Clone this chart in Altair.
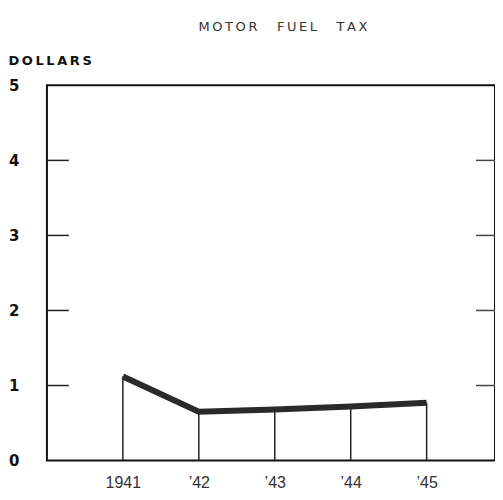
import altair as alt
import pandas as pd

years = [1941, 1942, 1943, 1944, 1945]
values = [1.12, 0.65, 0.68, 0.72, 0.77]
y_ticks = [0, 1, 2, 3, 4, 5]
inner_ticks = [1, 2, 3, 4]

df = pd.DataFrame({"year": years, "value": values})
tick_df = pd.DataFrame({"t": inner_ticks})

label_expr = "datum.value == 1941 ? '1941' : '\u2019' + substring(toString(datum.value), 2, 4)"

x_scale = alt.Scale(domain=[1940, 1945.9], nice=False, zero=False)
y_scale = alt.Scale(domain=[0, 5], nice=False)

x_enc = alt.X("year:Q", scale=x_scale,
              axis=alt.Axis(values=years, labelExpr=label_expr, title=None, grid=False,
                            domain=False, ticks=False, tickSize=0, labelPadding=14,
                            labelFontSize=16, labelFont="Liberation Sans", labelColor="#333"))
y_enc = alt.Y("value:Q", scale=y_scale,
              axis=alt.Axis(values=y_ticks, format="d", title="D\u2009O\u2009L\u2009L\u2009A\u2009R\u2009S",
                            grid=False, domain=False,
                            ticks=False, tickSize=0, labelPadding=28, labelAlign="right",
                            labelFontSize=15, labelFont="DejaVu Sans", labelFontWeight="bold",
                            labelColor="#111",
                            titleAngle=0, titleAlign="left", titleX=-39, titleY=-25,
                            titleBaseline="middle", titleFont="DejaVu Sans", titleFontSize=13,
                            titleFontWeight="bold", titleColor="#111"))

drops = alt.Chart(df).mark_rule(color="#222", strokeWidth=1.5).encode(
    x=x_enc, y=y_enc, y2=alt.Y2(datum=0)
)
line = alt.Chart(df).mark_line(color="#2a2a2a", strokeWidth=6, strokeJoin="miter").encode(
    x=alt.X("year:Q", scale=x_scale), y=alt.Y("value:Q", scale=y_scale)
)
left_ticks = alt.Chart(tick_df).mark_rule(color="#222", strokeWidth=1.5).encode(
    y=alt.Y("t:Q", scale=y_scale), x=alt.value(0), x2=alt.value(22)
)
right_ticks = alt.Chart(tick_df).mark_rule(color="#444", strokeWidth=1.5).encode(
    y=alt.Y("t:Q", scale=y_scale), x=alt.value(430), x2=alt.value(449)
)

title_text = "M\u2009O\u2009T\u2009O\u2009R\u2003\u2002F\u2009U\u2009E\u2009L\u2003\u2002T\u2009A\u2009X"

chart = alt.layer(drops, line, left_ticks, right_ticks).properties(
    width=449, height=376,
    autosize=alt.AutoSizeParams(type="none"),
    padding={"left": 39, "top": 77, "right": 0, "bottom": 31},
    background="white",
    title=alt.TitleParams(title_text, anchor="middle", frame="group",
                          dx=12, offset=20, font="DejaVu Sans", fontSize=13,
                          fontWeight="normal", color="#333"),
).configure_view(stroke="#111", strokeWidth=2)

chart.save("out.html", embed_options={"renderer": "svg", "actions": False})
